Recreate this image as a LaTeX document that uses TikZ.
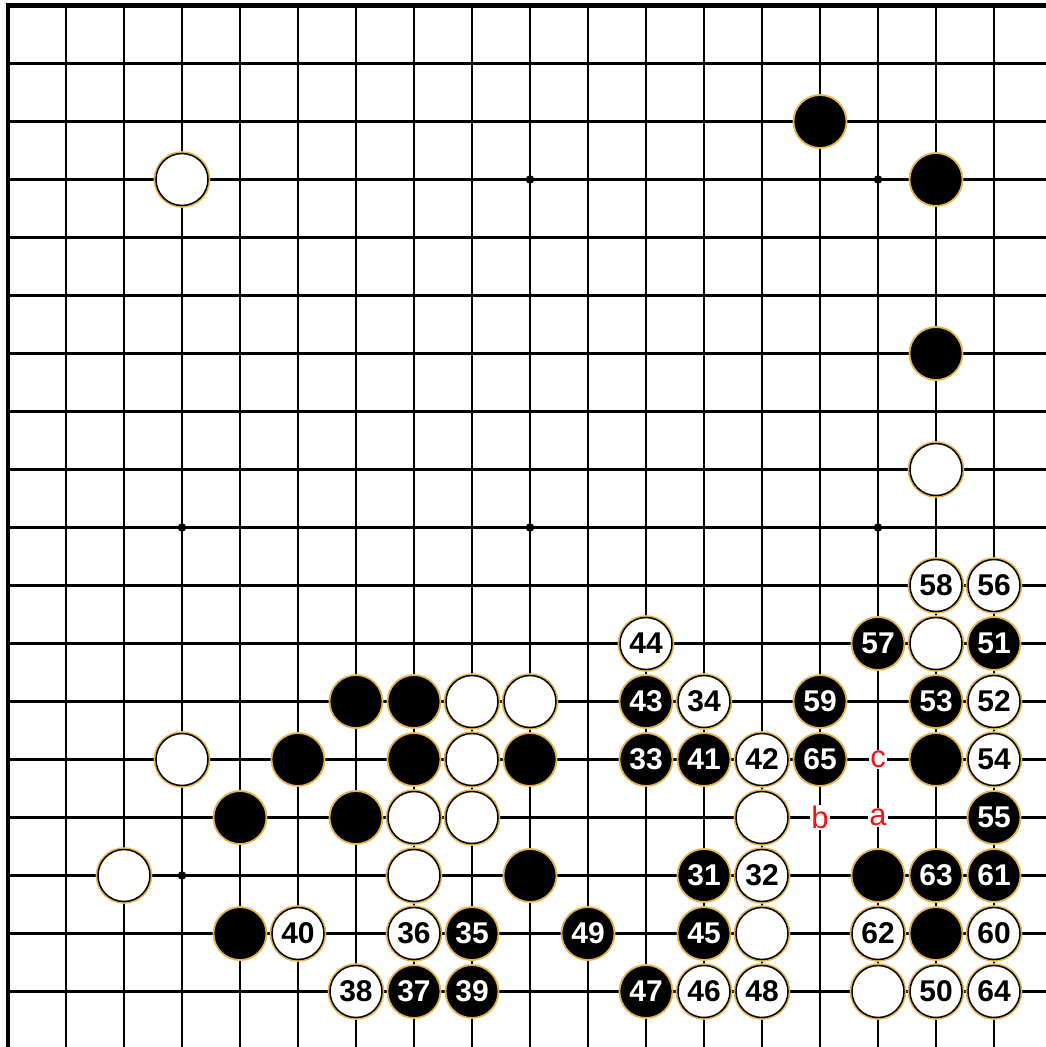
\documentclass[tikz,border=0pt]{standalone}
\usepackage{fontspec}
\setmainfont{Liberation Sans}
\definecolor{halo}{RGB}{228,182,80}
\definecolor{markred}{RGB}{240,20,20}
\begin{document}
\begin{tikzpicture}[x=1pt,y=-1pt,
  gridline/.style={line width=2.1pt,black},
  border/.style={line width=4.8pt,black},
  starpt/.style={circle,fill=black,inner sep=0pt,minimum size=8.5pt},
  bstone/.style={circle,fill=black,draw=halo,line width=1.8pt,minimum size=53pt,inner sep=0pt,
    text=white,font=\bfseries\fontsize{30}{30}\selectfont},
  wstone/.style={circle,fill=white,draw=black,line width=1.5pt,minimum size=52pt,inner sep=0pt,
    preaction={draw=halo,line width=4.6pt},
    text=black,font=\bfseries\fontsize{30}{30}\selectfont},
  redmark/.style={text=markred,fill=white,inner sep=1pt,font=\fontsize{31}{31}\selectfont}]
\useasboundingbox (0,0) rectangle (1046,1047);
\fill[white] (0,0) rectangle (1046,1047);
% grid
\foreach \c in {1,...,17} \draw[gridline] ({8+58*\c},5.5) -- ({8+58*\c},1047);
\foreach \r in {1,...,17} \draw[gridline] (8,{5.5+58*\r}) -- (1046,{5.5+58*\r});
\draw[border] (8,1047) -- (8,5.5) -- (1046,5.5);
% star points
\foreach \c/\r in {3/3,9/3,15/3,3/9,9/9,15/9,3/15}
  \node[starpt] (star-\c-\r) at ({8+58*\c},{5.5+58*\r}) {};
% black stones without numbers
\foreach \c/\r in {14/2,16/3,16/6,6/12,7/12,5/13,7/13,9/13,16/13,4/14,6/14,9/15,15/15,4/16,16/16}
  \node[bstone] (b-\c-\r) at ({8+58*\c},{5.5+58*\r}) {};
% white stones without numbers
\foreach \c/\r in {3/3,16/8,16/11,8/12,9/12,3/13,8/13,7/14,8/14,13/14,2/15,7/15,13/16,15/17}
  \node[wstone] (w-\c-\r) at ({8+58*\c},{5.5+58*\r}) {};
% numbered black stones
\foreach \c/\r/\n in {15/11/57,17/11/51,11/12/43,14/12/59,16/12/53,11/13/33,12/13/41,14/13/65,17/14/55,
  12/15/31,16/15/63,17/15/61,8/16/35,10/16/49,12/16/45,7/17/37,8/17/39,11/17/47}
  \node[bstone] (m\n) at ({8+58*\c},{5.5+58*\r}) {\n};
% numbered white stones
\foreach \c/\r/\n in {16/10/58,17/10/56,11/11/44,12/12/34,17/12/52,13/13/42,17/13/54,13/15/32,5/16/40,
  7/16/36,15/16/62,17/16/60,6/17/38,12/17/46,13/17/48,16/17/50,17/17/64}
  \node[wstone] (m\n) at ({8+58*\c},{5.5+58*\r}) {\n};
% letter marks
\node[redmark] (lc) at ({8+58*15},{5.5+58*13}) {c};
\node[redmark] (lb) at ({8+58*14},{5.5+58*14}) {b};
\node[redmark] (la) at ({8+58*15},{5.5+58*14}) {a};
\end{tikzpicture}
\end{document}
